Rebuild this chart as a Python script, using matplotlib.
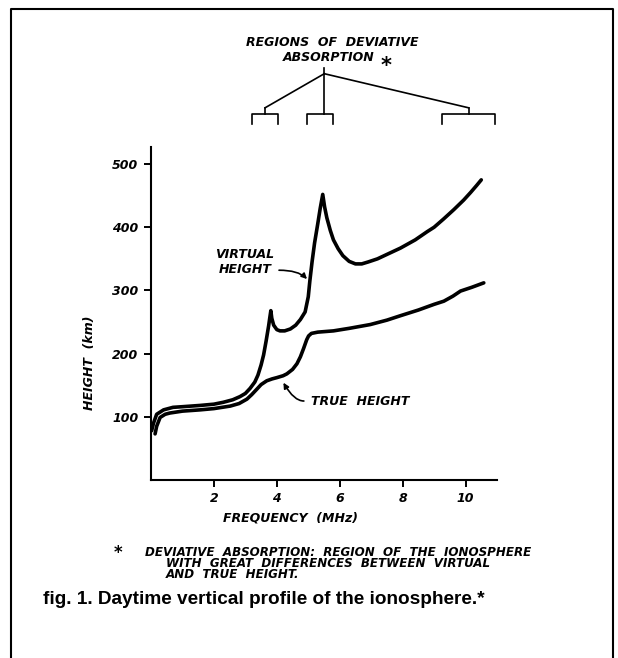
import matplotlib.pyplot as plt
from matplotlib.lines import Line2D

# virtual height curve (frequency MHz, height km)
virtual_f = [0.02, 0.08, 0.18, 0.4, 0.7, 1.0, 1.56, 2.0, 2.3, 2.6, 2.83, 3.0, 3.15,
             3.3, 3.4, 3.5, 3.58, 3.66, 3.74, 3.78, 3.81, 3.84, 3.9, 4.0, 4.1, 4.25,
             4.43, 4.6, 4.75, 4.9, 5.0, 5.05, 5.12, 5.2, 5.3, 5.38, 5.46, 5.52, 5.59,
             5.7, 5.8, 5.95, 6.1, 6.3, 6.5, 6.7, 6.9, 7.2, 7.5, 7.93, 8.4, 8.78, 9.0,
             9.3, 9.63, 9.94, 10.16, 10.35, 10.5]
virtual_h = [78, 90, 104, 111, 115, 116, 118, 120, 123, 127, 132, 137, 145,
             155, 166, 182, 198, 220, 244, 258, 268, 256, 245, 238, 236, 236,
             239, 245, 254, 266, 290, 315, 345, 375, 405, 430, 452, 432, 415,
             395, 380, 366, 355, 346, 342, 342, 345, 350, 357, 367, 380, 393, 400,
             413, 428, 443, 455, 466, 475]

# true height curve
true_f = [0.13, 0.18, 0.29, 0.45, 0.6, 1.0, 1.56, 2.0, 2.52, 2.8, 3.05, 3.2, 3.37,
          3.5, 3.68, 3.85, 4.0, 4.2, 4.32, 4.5, 4.64, 4.75, 4.85, 4.95, 5.01, 5.1,
          5.3, 5.8, 6.3, 6.97, 7.5, 7.93, 8.5, 9.0, 9.31, 9.6, 9.84, 10.2, 10.58]
true_h = [73, 85, 99, 104, 106, 109, 111, 113, 117, 121, 128, 135, 144,
          151, 157, 160, 162, 165, 168, 175, 184, 195, 208, 222, 228, 232,
          234, 236, 240, 246, 253, 260, 269, 278, 283, 291, 299, 305, 312]

x_ticks = [2, 4, 6, 8, 10]
y_ticks = [100, 200, 300, 400, 500]

# frequency ranges of deviative absorption
regions = [(3.2, 4.05), (4.95, 5.8), (9.25, 10.95)]

W, H = 618, 658
fig = plt.figure(figsize=(6.18, 6.58), dpi=100)
ax = fig.add_axes([151 / W, 1 - 480 / H, 346 / W, 333 / H])

italic = dict(family='DejaVu Sans', style='italic', fontweight='bold')

ax.plot(virtual_f, virtual_h, color='black', lw=2.6, solid_capstyle='round', solid_joinstyle='round')
ax.plot(true_f, true_h, color='black', lw=2.6, solid_capstyle='round', solid_joinstyle='round')

ax.set_xlim(0, 11.0)
ax.set_ylim(0, 527)
for s in ['top', 'right']:
    ax.spines[s].set_visible(False)
for s in ['left', 'bottom']:
    ax.spines[s].set_linewidth(1.5)
ax.set_xticks(x_ticks)
ax.set_yticks(y_ticks)
ax.set_xticklabels([str(t) for t in x_ticks], **italic, fontsize=9)
ax.set_yticklabels([str(t) for t in y_ticks], **italic, fontsize=9)
ax.tick_params(direction='out', length=5, width=1.4, pad=4)

ax.text(-1.95, 185, 'HEIGHT  (km)', rotation=90, ha='center', va='center', fontsize=9, **italic)
ax.text(4.43, -60, 'FREQUENCY  (MHz)', ha='center', va='center', fontsize=9, **italic)

# curve labels
ax.text(2.98, 345, 'VIRTUAL\nHEIGHT', ha='center', va='center', fontsize=9,
        linespacing=1.2, **italic)
ax.annotate('', xy=(4.96, 318), xytext=(4.07, 332),
            arrowprops=dict(arrowstyle='-|>', color='black', lw=1.2,
                            connectionstyle='angle3,angleA=0,angleB=-45',
                            mutation_scale=8, shrinkA=0, shrinkB=0))
ax.text(5.1, 125, 'TRUE  HEIGHT', ha='left', va='center', fontsize=9, **italic)
ax.annotate('', xy=(4.21, 154), xytext=(4.86, 125),
            arrowprops=dict(arrowstyle='-|>', color='black', lw=1.2,
                            connectionstyle='angle3,angleA=0,angleB=-60',
                            mutation_scale=8, shrinkA=0, shrinkB=0))

# regions of deviative absorption bracket tree
ax.text(5.77, 692, 'REGIONS  OF  DEVIATIVE', ha='center', va='center', fontsize=9, **italic)
ax.text(5.64, 668, 'ABSORPTION', ha='center', va='center', fontsize=9, **italic)
ax.text(7.48, 655, '*', ha='center', va='center', fontsize=15, fontweight='bold')
apex_f, apex_h = 5.51, 643
ax.plot([apex_f, apex_f], [apex_h, 652], color='black', lw=1.2, clip_on=False)
for lo, hi in regions:
    mid = (lo + hi) / 2
    join_h = 589 if abs(mid - apex_f) > 0.3 else apex_h
    if abs(mid - apex_f) > 0.3:
        ax.plot([apex_f, mid], [apex_h, join_h], color='black', lw=1.2, clip_on=False)
    else:
        mid = apex_f
    ax.plot([mid, mid], [join_h, 580], color='black', lw=1.2, clip_on=False)
    ax.plot([lo, lo, hi, hi], [564, 580, 580, 564], color='black', lw=1.2, clip_on=False)

# footnote and caption
fig.text(118 / W, 1 - 553 / H, '*', ha='center', va='center', fontsize=12, fontweight='bold')
fig.text(145 / W, 1 - 552 / H, 'DEVIATIVE  ABSORPTION:  REGION  OF  THE  IONOSPHERE',
         ha='left', va='center', fontsize=8.6, **italic)
fig.text(166 / W, 1 - 563.5 / H, 'WITH  GREAT  DIFFERENCES  BETWEEN  VIRTUAL',
         ha='left', va='center', fontsize=8.6, **italic)
fig.text(166 / W, 1 - 575 / H, 'AND  TRUE  HEIGHT.',
         ha='left', va='center', fontsize=8.6, **italic)
fig.text(43 / W, 1 - 599 / H, 'fig. 1. Daytime vertical profile of the ionosphere.*',
         ha='left', va='center', fontsize=13.7, fontweight='bold', family='Liberation Sans')

# border
fig.add_artist(Line2D([11 / W, 11 / W, 613 / W, 613 / W], [0, 1 - 9 / H, 1 - 9 / H, 0],
                      color='black', lw=1.5))

fig.savefig('out.png', dpi=100)
